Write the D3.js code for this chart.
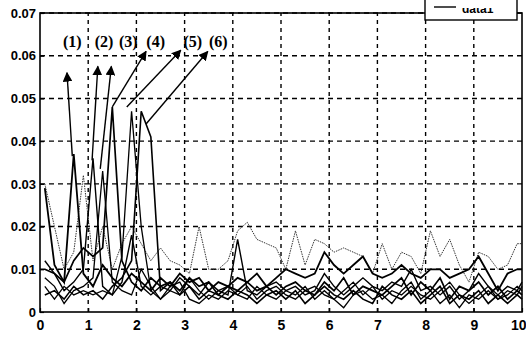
<!DOCTYPE html>
<html>
<head>
<meta charset="utf-8">
<script src="https://cdn.jsdelivr.net/npm/d3@7"></script>
<style>
  body { margin: 0; background: #fff; }
  svg { display: block; }
</style>
</head>
<body>
<div id="chart"></div>
<script>
// sample positions shared by all curves
const xs = [0.1, 0.3, 0.5, 0.7, 0.9, 1.1, 1.3, 1.5, 1.7, 1.9, 2.1, 2.3, 2.5, 2.7, 2.9, 3.1, 3.3, 3.5, 3.7, 3.9,
  4.1, 4.3, 4.5, 4.7, 4.9, 5.1, 5.3, 5.5, 5.7, 5.9, 6.1, 6.3, 6.5, 6.7, 6.9, 7.1, 7.3, 7.5, 7.7, 7.9,
  8.1, 8.3, 8.5, 8.7, 8.9, 9.1, 9.3, 9.5, 9.7, 9.9, 10.0];

const curve1 = [0.029, 0.011, 0.007, 0.037, 0.009, 0.006, 0.011, 0.008, 0.006, 0.009, 0.007, 0.005, 0.008, 0.006, 0.009, 0.007, 0.008, 0.005, 0.007, 0.006,
  0.008, 0.007, 0.009, 0.006, 0.008, 0.010, 0.009, 0.008, 0.009, 0.014, 0.011, 0.009, 0.011, 0.013, 0.009, 0.008, 0.009, 0.011, 0.009, 0.008,
  0.010, 0.010, 0.008, 0.009, 0.010, 0.013, 0.009, 0.005, 0.009, 0.010, 0.010];
const curve2 = [0.012, 0.009, 0.005, 0.007, 0.010, 0.036, 0.006, 0.004, 0.007, 0.018, 0.006, 0.004, 0.006, 0.005, 0.008, 0.006, 0.004, 0.007, 0.005, 0.004,
  0.017, 0.005, 0.004, 0.006, 0.007, 0.005, 0.006, 0.004, 0.005, 0.009, 0.006, 0.004, 0.006, 0.008, 0.006, 0.005, 0.007, 0.006, 0.010, 0.005,
  0.006, 0.004, 0.006, 0.003, 0.005, 0.009, 0.006, 0.004, 0.006, 0.005, 0.007];
const curve3 = [0.008, 0.006, 0.002, 0.005, 0.006, 0.008, 0.033, 0.007, 0.005, 0.004, 0.010, 0.006, 0.003, 0.006, 0.007, 0.003, 0.002, 0.004, 0.003, 0.005,
  0.004, 0.003, 0.006, 0.004, 0.003, 0.005, 0.004, 0.006, 0.003, 0.005, 0.003, 0.001, 0.004, 0.005, 0.003, 0.004, 0.002, 0.005, 0.007, 0.003,
  0.005, 0.002, 0.004, 0.001, 0.004, 0.003, 0.005, 0.003, 0.004, 0.006, 0.005];
const curve4 = [0.010, 0.009, 0.007, 0.012, 0.015, 0.013, 0.015, 0.048, 0.012, 0.007, 0.005, 0.008, 0.006, 0.007, 0.005, 0.008, 0.006, 0.007, 0.004, 0.006,
  0.005, 0.007, 0.005, 0.006, 0.004, 0.006, 0.007, 0.005, 0.004, 0.007, 0.005, 0.008, 0.004, 0.006, 0.005, 0.004, 0.006, 0.008, 0.004, 0.007,
  0.005, 0.008, 0.003, 0.006, 0.005, 0.007, 0.004, 0.006, 0.003, 0.005, 0.004];
const curve5 = [0.006, 0.003, 0.006, 0.004, 0.005, 0.004, 0.005, 0.004, 0.013, 0.047, 0.020, 0.005, 0.003, 0.005, 0.004, 0.008, 0.005, 0.003, 0.005, 0.006,
  0.004, 0.006, 0.003, 0.005, 0.006, 0.004, 0.003, 0.005, 0.006, 0.004, 0.003, 0.005, 0.007, 0.004, 0.006, 0.003, 0.005, 0.004, 0.006, 0.004,
  0.003, 0.005, 0.007, 0.004, 0.002, 0.004, 0.006, 0.003, 0.005, 0.004, 0.006];
const curve6 = [0.004, 0.005, 0.003, 0.006, 0.004, 0.005, 0.003, 0.006, 0.008, 0.012, 0.047, 0.041, 0.005, 0.007, 0.004, 0.006, 0.003, 0.005, 0.004, 0.003,
  0.005, 0.004, 0.002, 0.004, 0.005, 0.003, 0.005, 0.002, 0.004, 0.006, 0.004, 0.003, 0.005, 0.003, 0.002, 0.006, 0.004, 0.003, 0.005, 0.002,
  0.004, 0.006, 0.002, 0.004, 0.003, 0.005, 0.002, 0.004, 0.002, 0.004, 0.003];
// thin dotted grey curve riding above the rest
const curveRef = [0.030, 0.020, 0.010, 0.014, 0.032, 0.012, 0.020, 0.010, 0.016, 0.020, 0.016, 0.012, 0.015, 0.012, 0.011, 0.009, 0.020, 0.010, 0.010, 0.012,
  0.019, 0.021, 0.017, 0.016, 0.015, 0.010, 0.019, 0.011, 0.017, 0.016, 0.014, 0.015, 0.014, 0.013, 0.009, 0.016, 0.010, 0.014, 0.013, 0.009,
  0.019, 0.013, 0.017, 0.011, 0.007, 0.014, 0.013, 0.010, 0.011, 0.016, 0.016];

const xTicks = [0, 1, 2, 3, 4, 5, 6, 7, 8, 9, 10];
const yTicks = [0, 0.01, 0.02, 0.03, 0.04, 0.05, 0.06, 0.07];
const labels = ['(1)', '(2)', '(3)', '(4)', '(5)', '(6)'];
const labelX = [0.67, 1.33, 1.83, 2.4, 3.17, 3.7];
// arrows: [tail x, tail y, head x, head y] in data units
const arrows = [
  [0.67, 0.0365, 0.56, 0.0560],
  [1.08, 0.0355, 1.20, 0.0575],
  [1.25, 0.0335, 1.48, 0.0575],
  [1.50, 0.0480, 2.20, 0.0610],
  [1.80, 0.0480, 2.92, 0.0613],
  [2.20, 0.0440, 3.48, 0.0610]
];
const legendLabel = 'data1';

const width = 526, height = 337;
const margin = { top: 13, right: 4, bottom: 25, left: 40 };

const svg = d3.select('#chart').append('svg')
  .attr('width', width).attr('height', height);

const x = d3.scaleLinear().domain([0, 10]).range([margin.left, width - margin.right]);
const y = d3.scaleLinear().domain([0, 0.07]).range([height - margin.bottom, margin.top]);

// grid
svg.append('g').selectAll('line.v')
  .data(xTicks.slice(1, -1)).enter().append('line')
  .attr('x1', d => x(d)).attr('x2', d => x(d))
  .attr('y1', y(0)).attr('y2', y(0.07))
  .attr('stroke', '#000').attr('stroke-width', 1.4).attr('stroke-dasharray', '4,4');
svg.append('g').selectAll('line.h')
  .data(yTicks.slice(1)).enter().append('line')
  .attr('x1', x(0)).attr('x2', x(10))
  .attr('y1', d => y(d)).attr('y2', d => y(d))
  .attr('stroke', '#000').attr('stroke-width', 1.4).attr('stroke-dasharray', '5,4');

// curves
const line = d3.line().x((d, i) => x(xs[i])).y(d => y(d));
const curves = [
  { v: curve1, w: 1.8 },
  { v: curve2, w: 1.4 },
  { v: curve3, w: 1.3 },
  { v: curve4, w: 1.7 },
  { v: curve5, w: 1.3 },
  { v: curve6, w: 1.6 }
];
svg.append('path').datum(curveRef)
  .attr('d', line).attr('fill', 'none')
  .attr('stroke', '#333').attr('stroke-width', 1).attr('stroke-dasharray', '1.5,1');
svg.append('g').selectAll('path').data(curves).enter().append('path')
  .attr('d', d => line(d.v)).attr('fill', 'none')
  .attr('stroke', '#000').attr('stroke-width', d => d.w)
  .attr('stroke-linejoin', 'miter');

// frame + axes
svg.append('rect')
  .attr('x', x(0)).attr('y', y(0.07))
  .attr('width', x(10) - x(0)).attr('height', y(0) - y(0.07))
  .attr('fill', 'none').attr('stroke', '#000').attr('stroke-width', 1.6);

const xAxis = svg.append('g').attr('transform', `translate(0,${y(0)})`)
  .call(d3.axisBottom(x).tickValues(xTicks).tickSize(-4).tickPadding(8).tickFormat(d3.format('d')));
const yAxis = svg.append('g').attr('transform', `translate(${x(0)},0)`)
  .call(d3.axisLeft(y).tickValues(yTicks).tickSize(-4).tickPadding(4)
    .tickFormat(d => d === 0 ? '0' : d3.format('.2f')(d)));
[xAxis, yAxis].forEach(a => {
  a.select('.domain').remove();
  a.selectAll('line').attr('stroke', '#000').attr('stroke-width', 1.2);
  a.selectAll('text').attr('fill', '#000')
    .style('font-family', 'Liberation Sans, Arial, sans-serif')
    .style('font-size', '13px').style('font-weight', 'bold');
});
xAxis.selectAll('text').attr('dy', '0.71em').style('font-size', '14px');
// last label would run past the right edge; pull it inside
xAxis.selectAll('text').filter(d => d === 10).attr('text-anchor', 'end').attr('x', 4);

// arrows
const defs = svg.append('defs');
defs.append('marker').attr('id', 'head')
  .attr('viewBox', '0 0 10 10').attr('refX', 9).attr('refY', 5)
  .attr('markerWidth', 7).attr('markerHeight', 7).attr('orient', 'auto')
  .append('path').attr('d', 'M0,0 L10,5 L0,10 z').attr('fill', '#000');
svg.append('g').selectAll('line').data(arrows).enter().append('line')
  .attr('x1', d => x(d[0])).attr('y1', d => y(d[1]))
  .attr('x2', d => x(d[2])).attr('y2', d => y(d[3]))
  .attr('stroke', '#000').attr('stroke-width', 1.4)
  .attr('marker-end', 'url(#head)');

svg.append('g').selectAll('text').data(labels).enter().append('text')
  .attr('x', (d, i) => x(labelX[i])).attr('y', 47)
  .attr('text-anchor', 'middle')
  .style('font-family', 'Liberation Serif, Times New Roman, serif')
  .style('font-size', '16px').style('font-weight', 'bold')
  .text(d => d);

// legend box, cut at the top edge of the picture
defs.append('clipPath').attr('id', 'legclip')
  .append('rect').attr('x', 420).attr('y', 8).attr('width', 110).attr('height', 20);
svg.append('rect').attr('x', 425).attr('y', -10).attr('width', 92).attr('height', 30)
  .attr('fill', '#fff').attr('stroke', '#000').attr('stroke-width', 1.4);
svg.append('line').attr('x1', 434).attr('x2', 456).attr('y1', 7).attr('y2', 7)
  .attr('stroke', '#000').attr('stroke-width', 1.4);
svg.append('text').attr('x', 462).attr('y', 13)
  .attr('clip-path', 'url(#legclip)')
  .style('font-family', 'Liberation Sans, Arial, sans-serif')
  .style('font-size', '12px').style('font-weight', 'bold')
  .text(legendLabel);
</script>
</body>
</html>
